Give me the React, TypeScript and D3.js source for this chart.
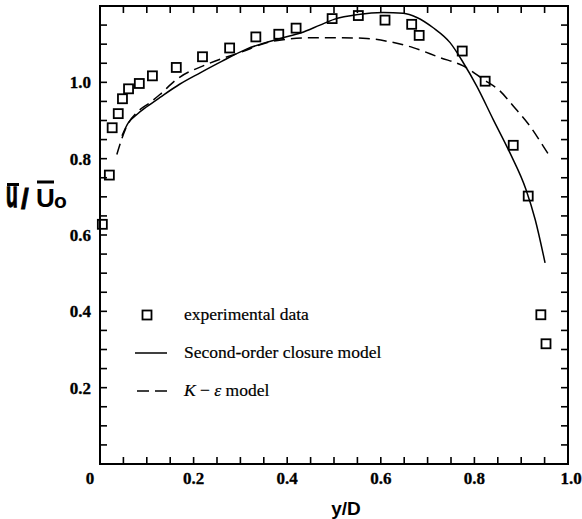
import React from "react";
import * as d3 from "d3";

const expX = [0.005, 0.020, 0.026, 0.039, 0.048, 0.061, 0.084, 0.112, 0.163, 0.219, 0.277, 0.333, 0.382, 0.419, 0.496, 0.552, 0.609, 0.666, 0.682, 0.774, 0.823, 0.883, 0.915, 0.942, 0.953];
const expY = [0.628, 0.757, 0.881, 0.918, 0.957, 0.983, 0.997, 1.017, 1.039, 1.067, 1.090, 1.119, 1.126, 1.142, 1.167, 1.175, 1.163, 1.152, 1.123, 1.082, 1.003, 0.835, 0.702, 0.391, 0.315];

const soX = [0.047, 0.06, 0.08, 0.1, 0.13, 0.17, 0.214, 0.26, 0.313, 0.385, 0.43, 0.47, 0.5, 0.552, 0.605, 0.648, 0.677, 0.712, 0.748, 0.776, 0.805, 0.84, 0.876, 0.91, 0.93, 0.951];
const soY = [0.86, 0.893, 0.917, 0.936, 0.962, 0.995, 1.025, 1.055, 1.087, 1.115, 1.13, 1.15, 1.165, 1.178, 1.183, 1.181, 1.17, 1.143, 1.104, 1.052, 0.99, 0.903, 0.815, 0.72, 0.64, 0.527];

const keX = [0.036, 0.046, 0.057, 0.078, 0.107, 0.128, 0.164, 0.228, 0.299, 0.37, 0.456, 0.5, 0.57, 0.62, 0.669, 0.726, 0.776, 0.819, 0.855, 0.883, 0.919, 0.947, 0.963];
const keY = [0.811, 0.85, 0.885, 0.92, 0.947, 0.968, 1.008, 1.047, 1.078, 1.108, 1.117, 1.117, 1.115, 1.106, 1.091, 1.065, 1.043, 1.008, 0.977, 0.938, 0.885, 0.833, 0.802];

const xTickLabels = ["0", "0.2", "0.4", "0.6", "0.8", "1.0"];
const xTickValues = [0, 0.2, 0.4, 0.6, 0.8, 1.0];
const yTickLabels = ["0.2", "0.4", "0.6", "0.8", "1.0"];
const yTickValues = [0.2, 0.4, 0.6, 0.8, 1.0];

const W = 582, H = 519;
const L = 100, R = 568, T = 6, B = 464;

export default function App() {
  const x = d3.scaleLinear().domain([0, 1]).range([L, R]);
  const y = d3.scaleLinear().domain([0, 1.2]).range([B, T]);
  const line = d3.line<[number, number]>().x(d => x(d[0])).y(d => y(d[1])).curve(d3.curveMonotoneX);
  const so = soX.map((v, i) => [v, soY[i]] as [number, number]);
  const ke = keX.map((v, i) => [v, keY[i]] as [number, number]);
  const xMinor = d3.range(1, 20).map(i => i * 0.05);
  const yMinor = d3.range(1, 24).map(i => i * 0.05);
  const tl = 7;
  const serif = "'Liberation Serif', 'DejaVu Serif', serif";
  const sans = "'Liberation Sans', Arial, sans-serif";
  return (
    <svg width={W} height={H} style={{ position: "absolute", left: 0, top: 0, background: "#fff" }}>
      <rect x={0} y={0} width={W} height={H} fill="#fff" />
      {/* ticks */}
      {xMinor.map((v, i) => (
        <g key={"xt" + i} stroke="#000" strokeWidth={1.6}>
          <line x1={x(v)} x2={x(v)} y1={B} y2={B - tl} />
          <line x1={x(v)} x2={x(v)} y1={T} y2={T + tl} />
        </g>
      ))}
      {yMinor.map((v, i) => (
        <g key={"yt" + i} stroke="#000" strokeWidth={1.6}>
          <line x1={L} x2={L + tl} y1={y(v)} y2={y(v)} />
          <line x1={R} x2={R - tl} y1={y(v)} y2={y(v)} />
        </g>
      ))}
      <rect x={L} y={T} width={R - L} height={B - T} fill="none" stroke="#000" strokeWidth={2} />
      {/* tick labels */}
      {xTickValues.map((v, i) => (
        <text key={"xl" + i} x={i === 0 ? x(v) - 10 : x(v) + (i === 5 ? 3 : 0)} y={484} textAnchor="middle"
          fontFamily={serif} fontWeight="bold" fontSize={17} stroke="#000" strokeWidth={0.3}>{xTickLabels[i]}</text>
      ))}
      {yTickValues.map((v, i) => (
        <text key={"yl" + i} x={91} y={y(v) + 6} textAnchor="end"
          fontFamily={serif} fontWeight="bold" fontSize={17} stroke="#000" strokeWidth={0.3}>{yTickLabels[i]}</text>
      ))}
      {/* axis titles */}
      <text x={346} y={515} textAnchor="middle" fontFamily={sans} fontWeight="bold" fontSize={19}>y/D</text>
      <g fontFamily={sans} fontWeight="bold">
        <text transform="translate(6,207) scale(0.74,1.4)" fontSize={26} stroke="#000" strokeWidth={0.9}>u</text>
        <line x1={7} x2={19} y1={184.5} y2={184.5} stroke="#000" strokeWidth={3} />
        <text x={21} y={208} fontSize={28} stroke="#000" strokeWidth={0.8}>/</text>
        <text x={36} y={207} fontSize={26}>U</text>
        <line x1={37} x2={54} y1={182} y2={182} stroke="#000" strokeWidth={3} />
        <text x={54} y={208} fontSize={21}>o</text>
      </g>
      {/* curves */}
      <path d={line(so) || ""} fill="none" stroke="#000" strokeWidth={1.5} />
      <path d={line(ke) || ""} fill="none" stroke="#000" strokeWidth={1.5} strokeDasharray="11,6" />
      {/* data */}
      {expX.map((v, i) => (
        <rect key={"p" + i} x={x(v) - 4.5} y={y(expY[i]) - 4.5} width={9} height={9}
          fill="none" stroke="#000" strokeWidth={1.8} />
      ))}
      {/* legend */}
      <rect x={142.5} y={310.5} width={9} height={9} fill="none" stroke="#000" strokeWidth={1.8} />
      <text x={184} y={320} fontFamily={serif} fontSize={17.5} stroke="#000" strokeWidth={0.2}>experimental data</text>
      <line x1={135} x2={167} y1={353} y2={353} stroke="#000" strokeWidth={1.5} />
      <text x={184} y={358} fontFamily={serif} fontSize={17.5} stroke="#000" strokeWidth={0.2}>Second-order closure model</text>
      <line x1={137} x2={149} y1={391} y2={391} stroke="#000" strokeWidth={1.5} />
      <line x1={155} x2={167} y1={391} y2={391} stroke="#000" strokeWidth={1.5} />
      <text x={184} y={396} fontFamily={serif} fontSize={17.5} stroke="#000" strokeWidth={0.2}>
        <tspan fontStyle="italic">K</tspan> − <tspan fontStyle="italic">ε</tspan> model
      </text>
    </svg>
  );
}
